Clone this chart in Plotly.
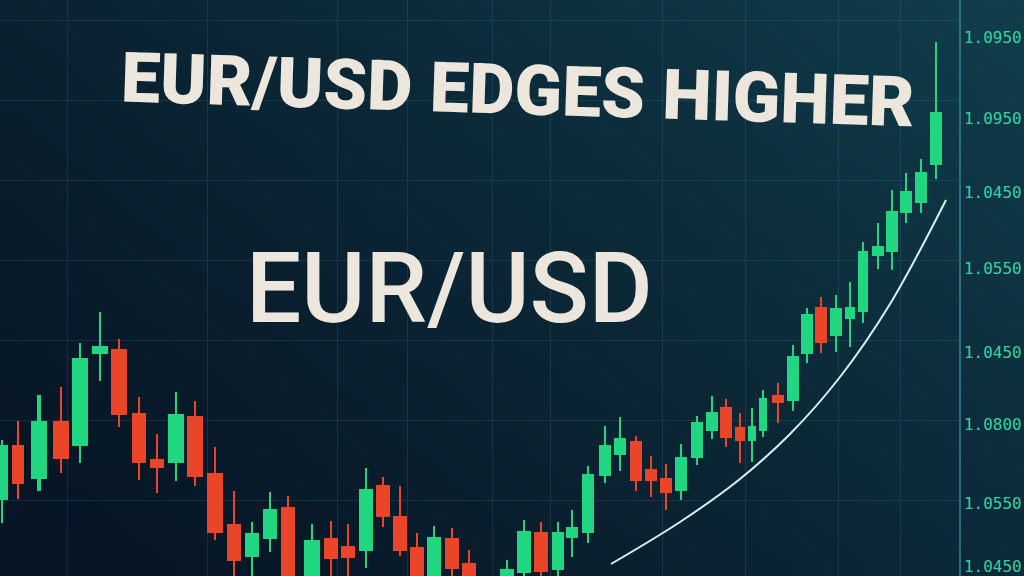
import base64, struct, zlib
import numpy as np
import plotly.graph_objects as go

# ---------------- data ----------------
minutes = [2, 18, 39, 61, 80, 100, 119, 139, 157, 176, 195, 215, 234, 252, 270, 288, 312, 331, 348, 366,
           383, 400, 417, 434, 452, 469, 507, 524, 541, 558, 572, 588, 605, 620, 636, 651, 666, 681, 697, 712,
           726, 740, 752, 763, 778, 793, 807, 821, 836, 850, 863, 878, 892, 906, 921, 936]
open_ = [1.0500, 1.0555, 1.0521, 1.0579, 1.0554, 1.0646, 1.0651, 1.0587, 1.0541, 1.0537, 1.0584, 1.0527, 1.0476, 1.0443,
         1.0461, 1.0493, 1.0410, 1.0462, 1.0454, 1.0449, 1.0515, 1.0484, 1.0453, 1.0410, 1.0462, 1.0437, 1.0410, 1.0427,
         1.0468, 1.0430, 1.0462, 1.0467, 1.0524, 1.0545, 1.0559, 1.0531, 1.0522, 1.0509, 1.0542, 1.0569, 1.0593, 1.0573,
         1.0559, 1.0569, 1.0605, 1.0599, 1.0646, 1.0693, 1.0664, 1.0681, 1.0688, 1.0744, 1.0748, 1.0787, 1.0797, 1.0835]
high = [1.0560, 1.0579, 1.0605, 1.0613, 1.0657, 1.0688, 1.0661, 1.0603, 1.0566, 1.0608, 1.0599, 1.0553, 1.0509, 1.0478,
        1.0508, 1.0504, 1.0476, 1.0479, 1.0476, 1.0532, 1.0523, 1.0514, 1.0467, 1.0474, 1.0472, 1.0450, 1.0440, 1.0480,
        1.0478, 1.0478, 1.0490, 1.0534, 1.0574, 1.0583, 1.0564, 1.0544, 1.0536, 1.0556, 1.0584, 1.0604, 1.0601, 1.0587,
        1.0592, 1.0610, 1.0617, 1.0655, 1.0692, 1.0703, 1.0705, 1.0718, 1.0758, 1.0777, 1.0810, 1.0827, 1.0841, 1.0958]
low = [1.0477, 1.0501, 1.0509, 1.0527, 1.0537, 1.0619, 1.0573, 1.0520, 1.0507, 1.0519, 1.0514, 1.0460, 1.0415, 1.0415,
       1.0448, 1.0400, 1.0400, 1.0424, 1.0424, 1.0432, 1.0473, 1.0444, 1.0400, 1.0400, 1.0420, 1.0400, 1.0400, 1.0415,
       1.0415, 1.0415, 1.0443, 1.0457, 1.0517, 1.0529, 1.0509, 1.0503, 1.0490, 1.0500, 1.0535, 1.0561, 1.0553, 1.0537,
       1.0538, 1.0563, 1.0577, 1.0589, 1.0637, 1.0647, 1.0648, 1.0653, 1.0677, 1.0731, 1.0730, 1.0777, 1.0787, 1.0821]
close = [1.0555, 1.0516, 1.0579, 1.0541, 1.0642, 1.0654, 1.0585, 1.0537, 1.0532, 1.0586, 1.0523, 1.0467, 1.0439, 1.0467,
         1.0491, 1.0410, 1.0460, 1.0441, 1.0442, 1.0511, 1.0483, 1.0449, 1.0410, 1.0463, 1.0431, 1.0410, 1.0431, 1.0469,
         1.0428, 1.0468, 1.0473, 1.0526, 1.0555, 1.0562, 1.0519, 1.0519, 1.0507, 1.0543, 1.0578, 1.0588, 1.0562, 1.0559,
         1.0574, 1.0602, 1.0597, 1.0644, 1.0686, 1.0657, 1.0692, 1.0693, 1.0749, 1.0754, 1.0789, 1.0809, 1.0828, 1.0888]

trend_minutes = [611, 680, 740, 790, 840, 890, 946]
trend_price = [1.0436, 1.0478, 1.0521, 1.0566, 1.0623, 1.0696, 1.0800]

tick_prices = [1.0963, 1.0882, 1.0808, 1.0732, 1.0648, 1.0576, 1.0497, 1.0434]
tick_labels = ["1.0950", "1.0950", "1.0450", "1.0550", "1.0450", "1.0800", "1.0550", "1.0450"]
grid_prices = [1.0980, 1.0900, 1.0820, 1.0740, 1.0660, 1.0580, 1.0500]
grid_minutes = [67, 207, 337, 407, 492, 550, 662, 745, 838, 900]

title_text = "EUR/USD EDGES HIGHER"
pair_text = "EUR/USD"

# ---------------- styling ----------------
GREEN = "#20d680"
RED = "#ea4529"
W, H = 1024, 576
R_MARGIN = 65

t = np.array(minutes, dtype=float)
o = np.array(open_); c = np.array(close); hi = np.array(high); lo = np.array(low)
gaps = np.diff(t)
left = np.concatenate([[gaps[0]], gaps])
right = np.concatenate([gaps, [gaps[-1]]])
local = np.minimum(left, right)
body_w = 0.8 * local
wick_w = 0.15 * local
colors = [GREEN if cc >= oo else RED for oo, cc in zip(o, c)]


def gradient_png(w=96, h=54):
    u = np.linspace(0, 1, w)[None, :]
    v = np.linspace(0, 1, h)[:, None]
    wgt = np.clip(0.6 * u + 0.4 * (1 - v), 0, 1) ** 1.3
    dark = np.array([7, 21, 37], float)
    light = np.array([17, 62, 76], float)
    img = dark + (light - dark) * wgt[..., None]
    img = np.clip(img, 0, 255).astype(np.uint8)
    raw = b"".join(b"\x00" + img[y].tobytes() for y in range(h))

    def chunk(tag, data):
        return struct.pack(">I", len(data)) + tag + data + struct.pack(">I", zlib.crc32(tag + data) & 0xffffffff)
    png = b"\x89PNG\r\n\x1a\n" + chunk(b"IHDR", struct.pack(">IIBBBBB", w, h, 8, 2, 0, 0, 0)) \
        + chunk(b"IDAT", zlib.compress(raw, 9)) + chunk(b"IEND", b"")
    return "data:image/png;base64," + base64.b64encode(png).decode()


fig = go.Figure()
# wicks
fig.add_trace(go.Bar(x=t, y=hi - lo, base=lo, width=wick_w, marker=dict(color=colors, line=dict(width=0)),
                     hoverinfo="skip", showlegend=False))
# bodies
fig.add_trace(go.Bar(x=t, y=np.abs(c - o), base=np.minimum(o, c), width=body_w,
                     marker=dict(color=colors, line=dict(width=0)), showlegend=False,
                     customdata=np.stack([o, hi, lo, c], axis=1),
                     hovertemplate="O %{customdata[0]:.4f}<br>H %{customdata[1]:.4f}<br>L %{customdata[2]:.4f}<br>C %{customdata[3]:.4f}<extra></extra>"))
# trend curve
fig.add_trace(go.Scatter(x=trend_minutes, y=trend_price, mode="lines",
                         line=dict(color="#d6f2f0", width=2, shape="spline", smoothing=1.0),
                         showlegend=False, hoverinfo="skip"))

plot_w = W - R_MARGIN
fig.update_layout(
    width=W, height=H,
    margin=dict(l=0, r=R_MARGIN, t=0, b=0, pad=0),
    paper_bgcolor="#0a1e2f",
    plot_bgcolor="rgba(0,0,0,0)",
    barmode="overlay",
    bargap=0,
    images=[dict(source=gradient_png(), xref="paper", yref="paper", x=0, y=1,
                 sizex=W / plot_w, sizey=1, sizing="stretch", layer="below", xanchor="left", yanchor="top")],
    xaxis=dict(range=[0, plot_w], tickvals=grid_minutes, showticklabels=False, ticks="", automargin=False,
               showgrid=True, gridcolor="rgba(70,140,160,0.2)", gridwidth=1, zeroline=False, showline=False),
    yaxis=dict(range=[1.1 - H / 10000, 1.1], side="right", tickvals=tick_prices, ticktext=tick_labels,
               showgrid=False, zeroline=False, ticks="", ticklabelstandoff=0, ticklabeloverflow="allow",
               automargin=False,
               showline=True, linecolor="rgba(70,160,180,0.55)", linewidth=1.5,
               tickfont=dict(family="DejaVu Sans Mono, Liberation Mono, monospace", size=16, color="#35d1a2"),
               minor=dict(tickvals=grid_prices, showgrid=True, gridcolor="rgba(70,140,160,0.2)", gridwidth=1,
                          ticks="")),
    annotations=[
        dict(text=title_text, xref="paper", yref="paper", x=518 / plot_w, y=1 - 90 / H,
             xanchor="center", yanchor="middle", showarrow=False, textangle=1.8,
             font=dict(family="Roboto, sans-serif", size=70, color="#ece6dc", weight=900)),
        dict(text=pair_text, xref="paper", yref="paper", x=449 / plot_w, y=1 - 288 / H,
             xanchor="center", yanchor="middle", showarrow=False,
             font=dict(family="Roboto, sans-serif", size=98, color="#ece6dc", weight=500)),
    ],
    hovermode="closest",
)

fig.write_html("out.html", config={"displayModeBar": False},
               post_script="document.body.style.margin='0';document.body.style.overflow='hidden';")
